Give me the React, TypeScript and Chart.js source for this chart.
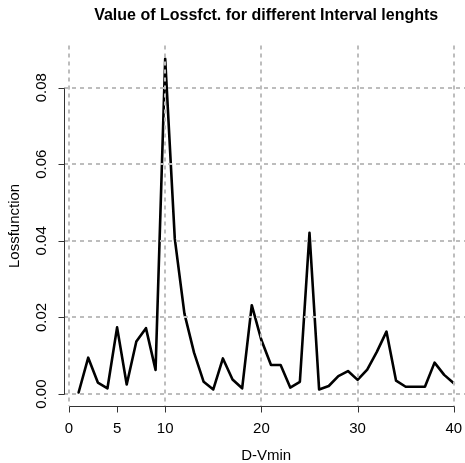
import React, { useEffect, useRef } from "react";
import { Chart, registerables } from "chart.js";

Chart.register(...registerables);

// ---- data ----
const intervalLengths = [
  1, 2, 3, 4, 5, 6, 7, 8, 9, 10, 11, 12, 13, 14, 15, 16, 17, 18, 19, 20,
  21, 22, 23, 24, 25, 26, 27, 28, 29, 30, 31, 32, 33, 34, 35, 36, 37, 38, 39, 40,
];
const lossValues = [
  0.0004, 0.0095, 0.003, 0.0015, 0.0174, 0.0025, 0.0137, 0.0172, 0.0063, 0.0875,
  0.0405, 0.021, 0.0108, 0.0032, 0.0012, 0.0093, 0.0038, 0.0015, 0.0232, 0.0141,
  0.0076, 0.0076, 0.0017, 0.0032, 0.0421, 0.0012, 0.0021, 0.0047, 0.006, 0.0037,
  0.0064, 0.011, 0.0163, 0.0035, 0.0019, 0.0019, 0.0019, 0.0082, 0.005, 0.0028,
];
const xTickValues = [0, 5, 10, 20, 30, 40];
const xGridValues = [0, 10, 20, 30, 40];
const yTickValues = [0, 0.02, 0.04, 0.06, 0.08];
const yTickLabels = ["0.00", "0.02", "0.04", "0.06", "0.08"];
const chartTitle = "Value of Lossfct. for different Interval lenghts";
const xTitle = "D-Vmin";
const yTitle = "Lossfunction";

const FONT = "'Liberation Sans', Arial, Helvetica, sans-serif";
const GRID_COLOR = "#bdbdbd";
const AXIS_COLOR = "#333333";

const rAxesPlugin = {
  id: "rAxes",
  afterDraw(chart: any) {
    const { ctx, chartArea } = chart;
    const xs = chart.scales.x;
    const ys = chart.scales.y;
    ctx.save();
    ctx.strokeStyle = AXIS_COLOR;
    ctx.lineWidth = 1;
    ctx.beginPath();
    const bx = Math.round(chartArea.left) + 0.5;
    const yA = ys.getPixelForValue(yTickValues[0]);
    const yB = ys.getPixelForValue(yTickValues[yTickValues.length - 1]);
    ctx.moveTo(bx, Math.round(yA) + 0.5);
    ctx.lineTo(bx, Math.round(yB) + 0.5);
    yTickValues.forEach((v) => {
      const p = Math.round(ys.getPixelForValue(v)) + 0.5;
      ctx.moveTo(bx - 6, p);
      ctx.lineTo(bx, p);
    });
    const by = Math.round(chartArea.bottom) + 0.5;
    const xA = xs.getPixelForValue(xTickValues[0]);
    const xB = xs.getPixelForValue(xTickValues[xTickValues.length - 1]);
    ctx.moveTo(Math.round(xA) + 0.5, by);
    ctx.lineTo(Math.round(xB) + 0.5, by);
    xTickValues.forEach((v) => {
      const p = Math.round(xs.getPixelForValue(v)) + 0.5;
      ctx.moveTo(p, by);
      ctx.lineTo(p, by + 6);
    });
    ctx.stroke();
    ctx.restore();
  },
};

export default function App() {
  const canvasRef = useRef<HTMLCanvasElement | null>(null);

  useEffect(() => {
    if (!canvasRef.current) return;
    Chart.defaults.font.family = FONT;
    const chart = new Chart(canvasRef.current, {
      type: "line",
      data: {
        datasets: [
          {
            data: intervalLengths.map((x, i) => ({ x, y: lossValues[i] })),
            borderColor: "#000000",
            borderWidth: 2.6,
            pointRadius: 0,
            tension: 0,
            fill: false,
            borderJoinStyle: "round",
            borderCapStyle: "round",
          },
        ],
      },
      options: {
        animation: false,
        responsive: false,
        events: [],
        layout: { padding: { left: 0, right: 1.2, top: 0, bottom: 0 } },
        plugins: {
          legend: { display: false },
          tooltip: { enabled: false },
          title: {
            display: true,
            text: chartTitle,
            fullSize: false,
            color: "#000000",
            font: { size: 16, weight: "bold", lineHeight: 1, family: FONT },
            padding: { top: 8, bottom: 21.5 },
          },
        },
        scales: {
          x: {
            type: "linear",
            min: -0.56,
            max: 41.56,
            afterBuildTicks: (s: any) => {
              s.ticks = xTickValues.map((v) => ({ value: v }));
            },
            afterFit: (s: any) => {
              s.height = 56.7;
              s.paddingLeft = 0;
              s.paddingRight = 0;
            },
            grid: {
              color: (c: any) =>
                c.tick && xGridValues.includes(c.tick.value) ? GRID_COLOR : "rgba(0,0,0,0)",
              lineWidth: 2,
              drawTicks: false,
              z: 1,
            },
            border: { display: false, dash: [4, 4] },
            ticks: {
              color: "#000000",
              font: { size: 15, family: FONT },
              padding: 13.7,
              maxRotation: 0,
              autoSkip: false,
              callback: (v: any) => String(v),
            },
            title: {
              display: true,
              text: xTitle,
              color: "#000000",
              font: { size: 15, lineHeight: 1, family: FONT },
              padding: { top: 0, bottom: 0 },
            },
          },
          y: {
            type: "linear",
            min: -0.0032,
            max: 0.091,
            afterBuildTicks: (s: any) => {
              s.ticks = yTickValues.map((v) => ({ value: v }));
            },
            afterFit: (s: any) => {
              s.width = 63.6;
              s.paddingTop = 0;
              s.paddingBottom = 0;
            },
            grid: {
              color: GRID_COLOR,
              lineWidth: 2,
              drawTicks: false,
              z: 1,
            },
            border: { display: false, dash: [4, 4] },
            ticks: {
              color: "#000000",
              font: { size: 15, family: FONT },
              minRotation: 90,
              maxRotation: 90,
              crossAlign: "center",
              padding: 7.5,
              autoSkip: false,
              callback: (v: any) => {
                const i = yTickValues.indexOf(Number(v));
                return i >= 0 ? yTickLabels[i] : Number(v).toFixed(2);
              },
            },
            title: {
              display: true,
              text: yTitle,
              color: "#000000",
              font: { size: 15, lineHeight: 1, family: FONT },
              padding: { top: 7, bottom: 0 },
            },
          },
        },
      } as any,
      plugins: [rAxesPlugin],
    });
    return () => chart.destroy();
  }, []);

  return (
    <div
      style={{
        position: "fixed",
        left: 0,
        top: 0,
        width: 465,
        height: 463,
        overflow: "hidden",
        background: "#ffffff",
      }}
    >
      <canvas
        ref={canvasRef}
        width={470}
        height={463}
        style={{ display: "block", width: 470, height: 463 }}
      />
    </div>
  );
}
